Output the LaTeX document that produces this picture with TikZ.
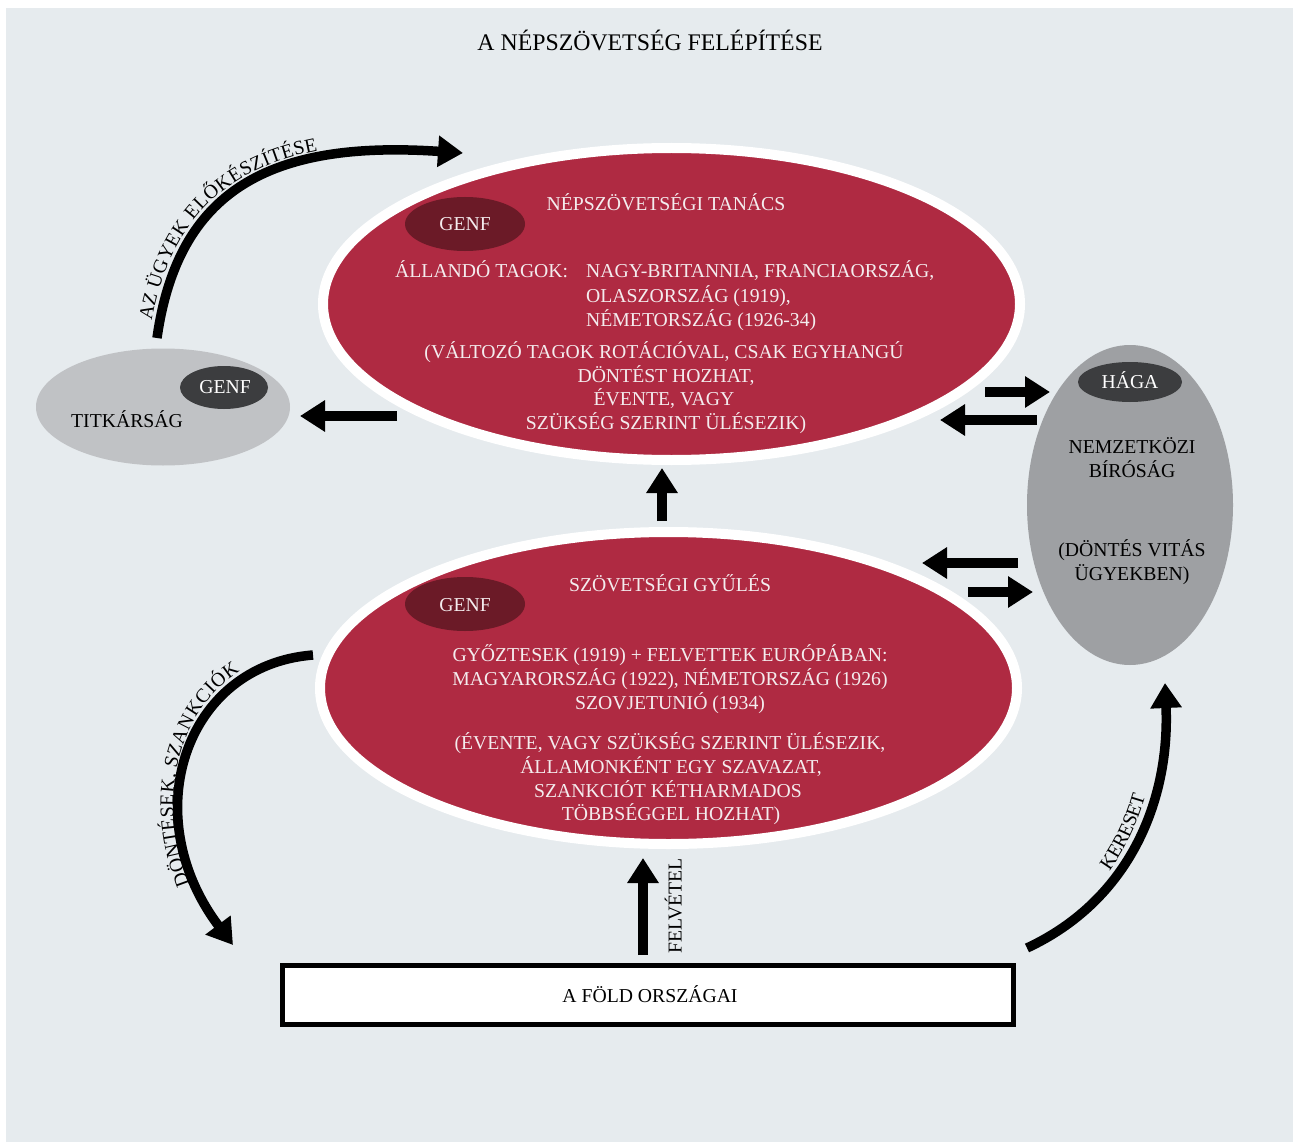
\documentclass[tikz,border=0pt]{standalone}
\usepackage{fontspec}
\setmainfont{Liberation Serif}
\usetikzlibrary{shapes.geometric, arrows.meta, decorations.text}
\definecolor{bg}{HTML}{E6EBEE}
\definecolor{lnred}{HTML}{AF2A42}
\definecolor{genfred}{HTML}{6B1A27}
\definecolor{courtgray}{HTML}{9EA0A3}
\definecolor{secgray}{HTML}{C0C2C5}
\definecolor{darkgray}{HTML}{3C3D3F}
\definecolor{wtext}{HTML}{F4ECEE}
\newcommand\mytxt{\fontsize{19.7pt}{24pt}\selectfont}
\begin{document}
\begin{tikzpicture}[x=1pt,y=-1pt,
  lbl/.style={anchor=base, inner sep=0pt, font=\mytxt, text=black},
  wlbl/.style={lbl, text=wtext},
  bigellipse/.style={ellipse, draw=white, line width=10pt, fill=lnred, minimum width=697pt, minimum height=312pt, inner sep=0pt},
  cityred/.style={ellipse, fill=genfred, minimum width=120pt, minimum height=54pt, inner sep=0pt},
  citygray/.style={ellipse, fill=darkgray, inner sep=0pt},
  bigarrow/.style={line width=9.5pt, -{Triangle[length=25pt,width=30pt]}},
  pathtext/.style={decorate, decoration={text along path, raise=8pt, text align=center}},
]
\mytxt
\useasboundingbox (0,0) rectangle (1293,1142);
\fill[white] (0,0) rectangle (1293,1142);
\fill[bg] (6,8) rectangle (1293,1142);

% title
\node[anchor=base, inner sep=0pt, font=\fontsize{23.8pt}{28pt}\selectfont] (title) at (650,51) {A NÉPSZÖVETSÉG FELÉPÍTÉSE};

% council
\node[bigellipse] (council) at (671.5,304) {};
\node[cityred] (cgenf) at (465,224) {};
\node[wlbl] (cgenft) at (465,230.5) {GENF};
\node[wlbl] (ctitle) at (666,210.5) {NÉPSZÖVETSÉGI TANÁCS};
\node[wlbl, anchor=base west] (c1) at (395,277.5) {ÁLLANDÓ TAGOK:};
\node[wlbl, anchor=base west] (c2) at (586,277.5) {NAGY-BRITANNIA, FRANCIAORSZÁG,};
\node[wlbl, anchor=base west] (c3) at (586,302.5) {OLASZORSZÁG (1919),};
\node[wlbl, anchor=base west] (c4) at (586,326.5) {NÉMETORSZÁG (1926-34)};
\node[wlbl] (c5) at (664,358.5) {(VÁLTOZÓ TAGOK ROTÁCIÓVAL, CSAK EGYHANGÚ};
\node[wlbl] (c6) at (666,382.5) {DÖNTÉST HOZHAT,};
\node[wlbl] (c7) at (664,405.5) {ÉVENTE, VAGY};
\node[wlbl] (c8) at (666,429.5) {SZÜKSÉG SZERINT ÜLÉSEZIK)};

% assembly
\node[bigellipse] (assembly) at (668.5,688) {};
\node[cityred] (agenf) at (465,604) {};
\node[wlbl] (agenft) at (465,611.5) {GENF};
\node[wlbl] (atitle) at (670,591.5) {SZÖVETSÉGI GYŰLÉS};
\node[wlbl] (g1) at (670,661.5) {GYŐZTESEK (1919) + FELVETTEK EURÓPÁBAN:};
\node[wlbl] (g2) at (670,685.5) {MAGYARORSZÁG (1922), NÉMETORSZÁG (1926)};
\node[wlbl] (g3) at (670,709.5) {SZOVJETUNIÓ (1934)};
\node[wlbl] (g4) at (670,749.5) {(ÉVENTE, VAGY SZÜKSÉG SZERINT ÜLÉSEZIK,};
\node[wlbl] (g5) at (671,773.5) {ÁLLAMONKÉNT EGY SZAVAZAT,};
\node[wlbl] (g6) at (668,797.5) {SZANKCIÓT KÉTHARMADOS};
\node[wlbl] (g7) at (671,820.5) {TÖBBSÉGGEL HOZHAT)};

% secretariat
\node[ellipse, fill=secgray, minimum width=254pt, minimum height=117pt, inner sep=0pt] (secr) at (163,407) {};
\node[citygray, minimum width=88pt, minimum height=43pt] (sgenf) at (224,387.5) {};
\node[lbl, text=white] (sgenft) at (225,393) {GENF};
\node[lbl] (secrt) at (127,427.5) {TITKÁRSÁG};

% court
\node[ellipse, fill=courtgray, minimum width=206pt, minimum height=320pt, inner sep=0pt] (court) at (1130,505) {};
\node[citygray, minimum width=104pt, minimum height=40pt] (haga) at (1130,382) {};
\node[lbl, text=white] (hagat) at (1130,388.5) {HÁGA};
\node[lbl] (k1) at (1132,453.5) {NEMZETKÖZI};
\node[lbl] (k2) at (1132,477.5) {BÍRÓSÁG};
\node[lbl] (k3) at (1132,556.5) {(DÖNTÉS VITÁS};
\node[lbl] (k4) at (1132,580.5) {ÜGYEKBEN)};

% countries of the world
\node[draw=black, line width=5pt, fill=white, minimum width=731pt, minimum height=59pt, inner sep=0pt] (earth) at (648,995) {};
\node[lbl] (eartht) at (650,1002.5) {A FÖLD ORSZÁGAI};

% straight arrows
\coordinate (a1s) at (397,416); \coordinate (a1e) at (300,416);
\coordinate (a2s) at (985,392); \coordinate (a2e) at (1050,392);
\coordinate (a3s) at (1037,420); \coordinate (a3e) at (940,420);
\coordinate (a4s) at (1018,563); \coordinate (a4e) at (922,563);
\coordinate (a5s) at (968,592); \coordinate (a5e) at (1033,592);
\coordinate (a6s) at (662,521); \coordinate (a6e) at (662,468);
\coordinate (a7s) at (643,955); \coordinate (a7e) at (643,858);
\draw[bigarrow] (a1s) -- (a1e);
\draw[bigarrow] (a2s) -- (a2e);
\draw[bigarrow] (a3s) -- (a3e);
\draw[bigarrow] (a4s) -- (a4e);
\draw[bigarrow] (a5s) -- (a5e);
\draw[bigarrow] (a6s) -- (a6e);
\draw[bigarrow] (a7s) -- (a7e);
\node[lbl, rotate=90] (felvetel) at (681.5,906) {FELVÉTEL};

% curved arrow: az ügyek előkészítése
\coordinate (u0) at (157,338); \coordinate (u1) at (178,190);
\coordinate (u2) at (270,140); \coordinate (u3) at (463,153);
\draw[bigarrow] (u0) .. controls (u1) and (u2) .. (u3);
\path[decorate, decoration={text along path, raise=8pt, text align={left, left indent=16pt},
  text={AZ ÜGYEK ELŐKÉSZÍTÉSE}}] (u0) .. controls (u1) and (u2) .. (u3);

% curved arrow: döntések, szankciók
\coordinate (d0) at (313,655); \coordinate (d1) at (185,665);
\coordinate (d2) at (135,815); \coordinate (d3) at (233,945);
\draw[bigarrow] (d0) .. controls (d1) and (d2) .. (d3);
\path[pathtext, decoration={text={DÖNTÉSEK, SZANKCIÓK}}] (d3) .. controls (d2) and (d1) .. (d0);

% curved arrow: kereset
\coordinate (k0) at (1027,948); \coordinate (kc1) at (1130,900);
\coordinate (kc2) at (1170,800); \coordinate (kend) at (1165,683);
\draw[bigarrow] (k0) .. controls (kc1) and (kc2) .. (kend);
\path[pathtext, decoration={text={KERESET}}] (k0) .. controls (kc1) and (kc2) .. (kend);
\end{tikzpicture}
\end{document}
